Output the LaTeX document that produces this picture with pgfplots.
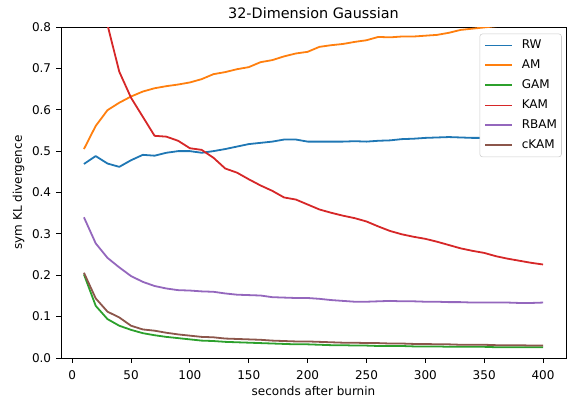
\documentclass[border=0pt]{standalone}
\usepackage{fontspec}
\setmainfont{DejaVu Sans}
\usepackage{pgfplots}
\usepackage{pgfplotstable}
\pgfplotsset{compat=1.18}

\definecolor{mplblue}{HTML}{1F77B4}
\definecolor{mplorange}{HTML}{FF7F0E}
\definecolor{mplgreen}{HTML}{2CA02C}
\definecolor{mplred}{HTML}{D62728}
\definecolor{mplpurple}{HTML}{9467BD}
\definecolor{mplbrown}{HTML}{8C564B}

% sym KL divergence per sampler, every 10 s after burnin
\pgfplotstableread{
x   RW    AM    GAM   KAM   RBAM  cKAM
10  0.469 0.505 0.202 1.080 0.340 0.206
20  0.488 0.561 0.126 0.940 0.277 0.144
30  0.470 0.599 0.094 0.805 0.242 0.112
40  0.462 0.617 0.078 0.692 0.219 0.098
50  0.478 0.632 0.068 0.629 0.198 0.078
60  0.491 0.644 0.060 0.583 0.184 0.069
70  0.489 0.652 0.055 0.537 0.174 0.066
80  0.496 0.657 0.051 0.535 0.168 0.061
90  0.500 0.661 0.048 0.525 0.164 0.057
100 0.500 0.666 0.045 0.507 0.163 0.054
110 0.496 0.674 0.042 0.503 0.161 0.051
120 0.500 0.686 0.041 0.484 0.160 0.050
130 0.505 0.691 0.039 0.458 0.156 0.047
140 0.511 0.698 0.038 0.448 0.153 0.046
150 0.517 0.703 0.037 0.432 0.152 0.045
160 0.520 0.715 0.036 0.417 0.151 0.044
170 0.523 0.720 0.035 0.404 0.147 0.042
180 0.528 0.729 0.034 0.388 0.146 0.041
190 0.528 0.736 0.033 0.383 0.145 0.040
200 0.523 0.740 0.033 0.371 0.145 0.040
210 0.523 0.752 0.032 0.359 0.143 0.039
220 0.523 0.756 0.031 0.351 0.140 0.038
230 0.523 0.759 0.031 0.344 0.138 0.037
240 0.524 0.764 0.030 0.338 0.136 0.037
250 0.523 0.768 0.030 0.330 0.136 0.036
260 0.525 0.776 0.029 0.318 0.137 0.036
270 0.526 0.775 0.029 0.307 0.138 0.035
280 0.529 0.777 0.029 0.299 0.137 0.035
290 0.530 0.777 0.028 0.293 0.137 0.034
300 0.532 0.779 0.028 0.288 0.136 0.034
310 0.533 0.781 0.028 0.281 0.136 0.033
320 0.534 0.786 0.027 0.273 0.135 0.033
330 0.533 0.793 0.027 0.265 0.135 0.032
340 0.532 0.796 0.027 0.259 0.134 0.032
350 0.532 0.799 0.027 0.254 0.134 0.032
360 0.533 0.802 0.026 0.246 0.134 0.031
370 0.533 0.806 0.026 0.240 0.134 0.031
380 0.533 0.808 0.026 0.235 0.133 0.031
390 0.533 0.811 0.026 0.230 0.133 0.030
400 0.533 0.814 0.026 0.226 0.134 0.030
}\kldata

\pgfplotsset{kl/.style={line width=1.35pt, line join=round, mark=none}}

\begin{document}
\begin{tikzpicture}
\useasboundingbox (-45.75pt,-33pt) rectangle (380.25pt,268.5pt);
\begin{axis}[
    at={(0,0)}, anchor=south west,
    scale only axis,
    width=378.75pt, height=248.25pt,
    xmin=-9.5, xmax=419.5, ymin=0, ymax=0.8,
    xtick={0,50,...,400},
    ytick={0,0.1,0.2,0.3,0.4,0.5,0.6,0.7,0.8},
    yticklabel style={xshift=-0.4pt, /pgf/number format/fixed, /pgf/number format/fixed zerofill, /pgf/number format/precision=1},
    /pgf/number format/assume math mode=true,
    tick align=outside, tick pos=left,
    major tick length=3.5pt,
    tick style={black, line width=0.72pt},
    axis line style={black, line width=0.72pt},
    font=\fontsize{9}{11}\selectfont,
    xticklabel style={yshift=-2.6pt},
    title={32-Dimension Gaussian},
    title style={font=\fontsize{10.8}{13}\selectfont, at={(axis description cs:0.5,1)}, anchor=base, yshift=0.2pt},
    xlabel={seconds after burnin},
    xlabel style={at={(axis description cs:0.5,0)}, anchor=base, yshift=-28.3pt},
    ylabel={sym KL divergence},
    ylabel style={at={(axis description cs:0,0.5)}, anchor=center, yshift=31.9pt},
    legend cell align=left,
    legend style={at={(axis description cs:0.9916,0.98)}, anchor=north east,
        draw=black!20, rounded corners=2pt, fill=white,
        font=\fontsize{9}{11}\selectfont,
        nodes={inner sep=0pt},
        row sep=6.9pt, column sep=6.75pt, inner xsep=3.4pt, inner ysep=4.6pt},
    legend image code/.code={\draw[#1, line width=1.35pt] (0pt,0pt) -- (20pt,0pt);},
  ]
  \addplot[kl, draw=mplblue] table[x=x, y=RW] {\kldata};
  \addplot[kl, draw=mplorange] table[x=x, y=AM] {\kldata};
  \addplot[kl, draw=mplgreen] table[x=x, y=GAM] {\kldata};
  \addplot[kl, draw=mplred] table[x=x, y=KAM] {\kldata};
  \addplot[kl, draw=mplpurple] table[x=x, y=RBAM] {\kldata};
  \addplot[kl, draw=mplbrown] table[x=x, y=cKAM] {\kldata};
  \legend{RW, AM, GAM, KAM, RBAM, cKAM}
\end{axis}
\end{tikzpicture}
\end{document}
